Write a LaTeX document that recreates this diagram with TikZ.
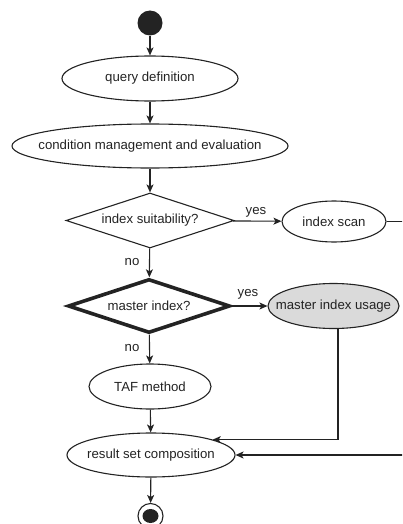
\documentclass[tikz,border=0pt]{standalone}
\usepackage{fontspec}
\setmainfont{Liberation Sans}
\usetikzlibrary{shapes.geometric,arrows.meta}
\definecolor{ink}{RGB}{35,35,35}
\definecolor{shade}{RGB}{218,218,218}
\newcommand\zw[1]{\makebox[0pt]{#1}}
\begin{document}
\begin{tikzpicture}[x=1pt,y=-1pt,
  font=\fontsize{13.2pt}{15pt}\selectfont,
  every node/.style={text=ink},
  act/.style={ellipse,draw=ink,line width=1.1pt,inner sep=0pt},
  dec/.style={diamond,draw=ink,line width=1.1pt,inner sep=0pt,aspect=3},
  flow/.style={draw=ink,line width=1.1pt,-{Stealth[length=8pt,width=7pt,inset=2pt]}},
  lbl/.style={inner sep=0pt}]
\useasboundingbox (0,0) rectangle (402,524);
\clip (0,0) rectangle (402,524);
\node[circle,fill=ink,minimum size=25pt,inner sep=0pt] (start) at (150,23) {};
\node[act,minimum width=176pt,minimum height=45pt] (qd) at (150,78.5) {\zw{query definition}};
\node[act,minimum width=276pt,minimum height=44pt] (cme) at (150,146) {\zw{condition management and evaluation}};
\node[dec,minimum width=168pt,minimum height=55pt] (is) at (150,220.5) {\zw{index suitability?}};
\node[act,minimum width=104pt,minimum height=41pt] (isc) at (334,221.5) {\zw{index scan}};
\node[dec,line width=3.6pt,minimum width=162pt,minimum height=54pt] (mi) at (149,306) {\zw{master index?}};
\node[act,fill=shade,minimum width=131pt,minimum height=45pt] (miu) at (333.5,306) {\zw{master index usage}};
\node[act,minimum width=122pt,minimum height=45pt] (taf) at (150,386.5) {\zw{TAF method}};
\node[act,minimum width=168pt,minimum height=44pt] (rsc) at (151,455) {\zw{result set composition}};
\node[circle,draw=ink,line width=1.1pt,minimum size=25pt,inner sep=0pt] (end) at (150.5,516) {};
\node[ellipse,fill=ink,minimum width=16pt,minimum height=14pt,inner sep=0pt] (endin) at (end.center) {};
\coordinate (c1) at (338,439);
\coordinate (c2) at (412,455);
\draw[flow] (start) -- (qd);
\draw[flow] (qd) -- (cme);
\draw[flow] (cme) -- (is);
\draw[flow] (is) -- (isc);
\draw[flow] (is) -- (mi);
\draw[flow] (mi) -- (miu);
\draw[flow] (mi) -- (taf);
\draw[flow] (taf) -- (rsc);
\draw[flow] (rsc) -- (end);
\draw[flow] (isc.east) -| (c2) -- (rsc.east);
\draw[flow] (miu.south -| c1) |- (rsc.14);
\node[lbl] (y1) at (256,212) {yes};
\node[lbl] (n1) at (132,262) {no};
\node[lbl] (y2) at (248,294) {yes};
\node[lbl] (n2) at (132,348) {no};
\end{tikzpicture}
\end{document}
